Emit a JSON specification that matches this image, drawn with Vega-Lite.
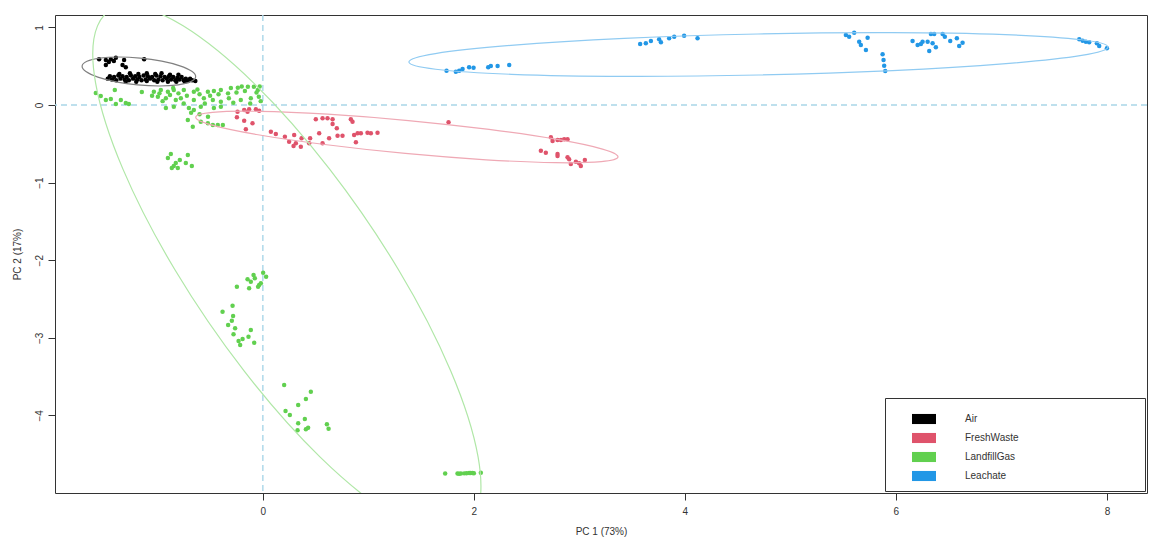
{
  "$schema": "https://vega.github.io/schema/vega-lite/v6.json",
  "width": 1092,
  "height": 478,
  "autosize": {"type": "none"},
  "padding": {"left": 55, "top": 15, "right": 18, "bottom": 57},
  "background": "white",
  "config": {
    "view": {"stroke": "#333", "strokeWidth": 1},
    "font": "Liberation Sans",
    "axis": {"grid": false, "domain": false, "tickColor": "#333", "tickSize": 7, "labelFontSize": 10, "labelColor": "#333", "titleFontSize": 10, "titleFontWeight": "normal", "titleColor": "#333", "labelFont": "Liberation Sans", "titleFont": "Liberation Sans"}
  },
  "datasets": {
    "vref": [{"x": 0}],
    "href": [{"y": 0}],
    "ell": [
      {"g": "Air", "i": 0, "x": -0.637, "y": 0.362}, {"g": "Air", "i": 1, "x": -0.683, "y": 0.301}, {"g": "Air", "i": 2, "x": -0.803, "y": 0.260}, {"g": "Air", "i": 3, "x": -0.980, "y": 0.245},
      {"g": "Air", "i": 4, "x": -1.187, "y": 0.259}, {"g": "Air", "i": 5, "x": -1.392, "y": 0.299}, {"g": "Air", "i": 6, "x": -1.564, "y": 0.359}, {"g": "Air", "i": 7, "x": -1.677, "y": 0.431},
      {"g": "Air", "i": 8, "x": -1.713, "y": 0.502}, {"g": "Air", "i": 9, "x": -1.667, "y": 0.563}, {"g": "Air", "i": 10, "x": -1.547, "y": 0.604}, {"g": "Air", "i": 11, "x": -1.370, "y": 0.619},
      {"g": "Air", "i": 12, "x": -1.163, "y": 0.605}, {"g": "Air", "i": 13, "x": -0.958, "y": 0.565}, {"g": "Air", "i": 14, "x": -0.786, "y": 0.505}, {"g": "Air", "i": 15, "x": -0.673, "y": 0.434},
      {"g": "FreshWaste", "i": 0, "x": 3.366, "y": -0.669}, {"g": "FreshWaste", "i": 1, "x": 3.208, "y": -0.730}, {"g": "FreshWaste", "i": 2, "x": 2.770, "y": -0.743}, {"g": "FreshWaste", "i": 3, "x": 2.117, "y": -0.706},
      {"g": "FreshWaste", "i": 4, "x": 1.350, "y": -0.624}, {"g": "FreshWaste", "i": 5, "x": 0.586, "y": -0.509}, {"g": "FreshWaste", "i": 6, "x": -0.060, "y": -0.380}, {"g": "FreshWaste", "i": 7, "x": -0.489, "y": -0.256},
      {"g": "FreshWaste", "i": 8, "x": -0.636, "y": -0.155}, {"g": "FreshWaste", "i": 9, "x": -0.478, "y": -0.094}, {"g": "FreshWaste", "i": 10, "x": -0.040, "y": -0.081}, {"g": "FreshWaste", "i": 11, "x": 0.613, "y": -0.118},
      {"g": "FreshWaste", "i": 12, "x": 1.380, "y": -0.200}, {"g": "FreshWaste", "i": 13, "x": 2.144, "y": -0.315}, {"g": "FreshWaste", "i": 14, "x": 2.790, "y": -0.444}, {"g": "FreshWaste", "i": 15, "x": 3.219, "y": -0.568},
      {"g": "LandfillGas", "i": 0, "x": 1.287, "y": -2.126}, {"g": "LandfillGas", "i": 1, "x": 1.782, "y": -3.430}, {"g": "LandfillGas", "i": 2, "x": 2.040, "y": -4.535}, {"g": "LandfillGas", "i": 3, "x": 2.022, "y": -5.273},
      {"g": "LandfillGas", "i": 4, "x": 1.731, "y": -5.532}, {"g": "LandfillGas", "i": 5, "x": 1.211, "y": -5.273}, {"g": "LandfillGas", "i": 6, "x": 0.541, "y": -4.535}, {"g": "LandfillGas", "i": 7, "x": -0.176, "y": -3.430},
      {"g": "LandfillGas", "i": 8, "x": -0.832, "y": -2.126}, {"g": "LandfillGas", "i": 9, "x": -1.327, "y": -0.823}, {"g": "LandfillGas", "i": 10, "x": -1.585, "y": 0.282}, {"g": "LandfillGas", "i": 11, "x": -1.567, "y": 1.020},
      {"g": "LandfillGas", "i": 12, "x": -1.276, "y": 1.280}, {"g": "LandfillGas", "i": 13, "x": -0.756, "y": 1.020}, {"g": "LandfillGas", "i": 14, "x": -0.086, "y": 0.282}, {"g": "LandfillGas", "i": 15, "x": 0.631, "y": -0.823},
      {"g": "Leachate", "i": 0, "x": 8.010, "y": 0.748}, {"g": "Leachate", "i": 1, "x": 7.760, "y": 0.639}, {"g": "Leachate", "i": 2, "x": 7.043, "y": 0.533}, {"g": "Leachate", "i": 3, "x": 5.969, "y": 0.444},
      {"g": "Leachate", "i": 4, "x": 4.701, "y": 0.387}, {"g": "Leachate", "i": 5, "x": 3.433, "y": 0.370}, {"g": "Leachate", "i": 6, "x": 2.357, "y": 0.396}, {"g": "Leachate", "i": 7, "x": 1.638, "y": 0.461},
      {"g": "Leachate", "i": 8, "x": 1.384, "y": 0.554}, {"g": "Leachate", "i": 9, "x": 1.635, "y": 0.663}, {"g": "Leachate", "i": 10, "x": 2.352, "y": 0.769}, {"g": "Leachate", "i": 11, "x": 3.425, "y": 0.858},
      {"g": "Leachate", "i": 12, "x": 4.693, "y": 0.915}, {"g": "Leachate", "i": 13, "x": 5.961, "y": 0.932}, {"g": "Leachate", "i": 14, "x": 7.037, "y": 0.906}, {"g": "Leachate", "i": 15, "x": 7.756, "y": 0.841}
    ],
    "pts": [
      {"g": "Air", "x": -1.552, "y": 0.589}, {"g": "Air", "x": -1.488, "y": 0.580}, {"g": "Air", "x": -1.441, "y": 0.589}, {"g": "Air", "x": -1.393, "y": 0.610},
      {"g": "Air", "x": -1.460, "y": 0.554}, {"g": "Air", "x": -1.412, "y": 0.567}, {"g": "Air", "x": -1.315, "y": 0.580}, {"g": "Air", "x": -1.330, "y": 0.515},
      {"g": "Air", "x": -1.299, "y": 0.486}, {"g": "Air", "x": -1.125, "y": 0.589}, {"g": "Air", "x": -1.488, "y": 0.515},
      {"g": "Air", "x": -1.47, "y": 0.34}, {"g": "Air", "x": -1.43, "y": 0.33}, {"g": "Air", "x": -1.39, "y": 0.32}, {"g": "Air", "x": -1.35, "y": 0.34},
      {"g": "Air", "x": -1.31, "y": 0.33}, {"g": "Air", "x": -1.27, "y": 0.32}, {"g": "Air", "x": -1.23, "y": 0.34}, {"g": "Air", "x": -1.19, "y": 0.33},
      {"g": "Air", "x": -1.15, "y": 0.32}, {"g": "Air", "x": -1.11, "y": 0.33}, {"g": "Air", "x": -1.07, "y": 0.34}, {"g": "Air", "x": -1.03, "y": 0.32},
      {"g": "Air", "x": -0.99, "y": 0.33}, {"g": "Air", "x": -0.95, "y": 0.32}, {"g": "Air", "x": -0.91, "y": 0.34}, {"g": "Air", "x": -0.87, "y": 0.33},
      {"g": "Air", "x": -0.83, "y": 0.32}, {"g": "Air", "x": -0.79, "y": 0.33}, {"g": "Air", "x": -0.75, "y": 0.32}, {"g": "Air", "x": -0.71, "y": 0.31},
      {"g": "Air", "x": -0.67, "y": 0.32}, {"g": "Air", "x": -0.64, "y": 0.31},
      {"g": "Air", "x": -1.45, "y": 0.37}, {"g": "Air", "x": -1.41, "y": 0.36}, {"g": "Air", "x": -1.37, "y": 0.38}, {"g": "Air", "x": -1.33, "y": 0.37},
      {"g": "Air", "x": -1.29, "y": 0.36}, {"g": "Air", "x": -1.25, "y": 0.38}, {"g": "Air", "x": -1.21, "y": 0.37}, {"g": "Air", "x": -1.17, "y": 0.36},
      {"g": "Air", "x": -1.13, "y": 0.38}, {"g": "Air", "x": -1.09, "y": 0.37}, {"g": "Air", "x": -1.05, "y": 0.36}, {"g": "Air", "x": -1.01, "y": 0.38},
      {"g": "Air", "x": -0.97, "y": 0.37}, {"g": "Air", "x": -0.93, "y": 0.36}, {"g": "Air", "x": -0.89, "y": 0.37}, {"g": "Air", "x": -0.85, "y": 0.36},
      {"g": "Air", "x": -0.81, "y": 0.35}, {"g": "Air", "x": -0.77, "y": 0.36}, {"g": "Air", "x": -0.73, "y": 0.34}, {"g": "Air", "x": -0.69, "y": 0.34},
      {"g": "Air", "x": -1.36, "y": 0.40}, {"g": "Air", "x": -1.26, "y": 0.41}, {"g": "Air", "x": -1.18, "y": 0.40}, {"g": "Air", "x": -1.10, "y": 0.41},
      {"g": "Air", "x": -1.02, "y": 0.40}, {"g": "Air", "x": -0.96, "y": 0.41}, {"g": "Air", "x": -0.88, "y": 0.39}, {"g": "Air", "x": -0.80, "y": 0.39},
      {"g": "Air", "x": -1.30, "y": 0.30}, {"g": "Air", "x": -1.20, "y": 0.30}, {"g": "Air", "x": -1.10, "y": 0.31}, {"g": "Air", "x": -1.00, "y": 0.30},
      {"g": "Air", "x": -0.90, "y": 0.30}, {"g": "Air", "x": -0.82, "y": 0.30}, {"g": "Air", "x": -0.74, "y": 0.30},

      {"g": "FreshWaste", "x": -0.240, "y": -0.086}, {"g": "FreshWaste", "x": -0.177, "y": -0.064}, {"g": "FreshWaste", "x": -0.145, "y": -0.086}, {"g": "FreshWaste", "x": -0.130, "y": -0.055},
      {"g": "FreshWaste", "x": -0.066, "y": -0.055}, {"g": "FreshWaste", "x": -0.035, "y": -0.073}, {"g": "FreshWaste", "x": -0.246, "y": -0.159}, {"g": "FreshWaste", "x": -0.177, "y": -0.202},
      {"g": "FreshWaste", "x": -0.098, "y": -0.236}, {"g": "FreshWaste", "x": -0.161, "y": -0.313}, {"g": "FreshWaste", "x": 0.076, "y": -0.344}, {"g": "FreshWaste", "x": 0.123, "y": -0.374},
      {"g": "FreshWaste", "x": 0.209, "y": -0.409}, {"g": "FreshWaste", "x": 0.249, "y": -0.473}, {"g": "FreshWaste", "x": 0.297, "y": -0.387}, {"g": "FreshWaste", "x": 0.313, "y": -0.494},
      {"g": "FreshWaste", "x": 0.291, "y": -0.528}, {"g": "FreshWaste", "x": 0.367, "y": -0.429}, {"g": "FreshWaste", "x": 0.360, "y": -0.537}, {"g": "FreshWaste", "x": 0.439, "y": -0.494},
      {"g": "FreshWaste", "x": 0.448, "y": -0.429}, {"g": "FreshWaste", "x": 0.502, "y": -0.184}, {"g": "FreshWaste", "x": 0.566, "y": -0.171}, {"g": "FreshWaste", "x": 0.613, "y": -0.171},
      {"g": "FreshWaste", "x": 0.661, "y": -0.184}, {"g": "FreshWaste", "x": 0.661, "y": -0.245}, {"g": "FreshWaste", "x": 0.701, "y": -0.300}, {"g": "FreshWaste", "x": 0.534, "y": -0.365},
      {"g": "FreshWaste", "x": 0.566, "y": -0.494}, {"g": "FreshWaste", "x": 0.628, "y": -0.429}, {"g": "FreshWaste", "x": 0.708, "y": -0.396}, {"g": "FreshWaste", "x": 0.755, "y": -0.396},
      {"g": "FreshWaste", "x": 0.834, "y": -0.184}, {"g": "FreshWaste", "x": 0.850, "y": -0.215}, {"g": "FreshWaste", "x": 0.865, "y": -0.387}, {"g": "FreshWaste", "x": 0.898, "y": -0.365},
      {"g": "FreshWaste", "x": 0.929, "y": -0.365}, {"g": "FreshWaste", "x": 0.882, "y": -0.481}, {"g": "FreshWaste", "x": 0.992, "y": -0.357}, {"g": "FreshWaste", "x": 1.024, "y": -0.365},
      {"g": "FreshWaste", "x": 1.087, "y": -0.357}, {"g": "FreshWaste", "x": 1.760, "y": -0.223},
      {"g": "FreshWaste", "x": 2.730, "y": -0.416}, {"g": "FreshWaste", "x": 2.746, "y": -0.464}, {"g": "FreshWaste", "x": 2.793, "y": -0.451}, {"g": "FreshWaste", "x": 2.825, "y": -0.451},
      {"g": "FreshWaste", "x": 2.856, "y": -0.442}, {"g": "FreshWaste", "x": 2.888, "y": -0.442}, {"g": "FreshWaste", "x": 2.635, "y": -0.589}, {"g": "FreshWaste", "x": 2.682, "y": -0.615},
      {"g": "FreshWaste", "x": 2.793, "y": -0.631}, {"g": "FreshWaste", "x": 2.793, "y": -0.657}, {"g": "FreshWaste", "x": 2.888, "y": -0.674}, {"g": "FreshWaste", "x": 2.903, "y": -0.700},
      {"g": "FreshWaste", "x": 2.967, "y": -0.731}, {"g": "FreshWaste", "x": 2.998, "y": -0.751}, {"g": "FreshWaste", "x": 2.919, "y": -0.760}, {"g": "FreshWaste", "x": 3.014, "y": -0.786},
      {"g": "FreshWaste", "x": 3.052, "y": -0.709},

      {"g": "LandfillGas", "x": -1.583, "y": 0.155}, {"g": "LandfillGas", "x": -1.536, "y": 0.116}, {"g": "LandfillGas", "x": -1.488, "y": 0.064}, {"g": "LandfillGas", "x": -1.441, "y": 0.077},
      {"g": "LandfillGas", "x": -1.393, "y": 0.013}, {"g": "LandfillGas", "x": -1.346, "y": 0.064}, {"g": "LandfillGas", "x": -1.299, "y": 0.026}, {"g": "LandfillGas", "x": -1.270, "y": 0.013},
      {"g": "LandfillGas", "x": -1.403, "y": 0.193}, {"g": "LandfillGas", "x": -1.147, "y": 0.168},
      {"g": "LandfillGas", "x": -1.033, "y": 0.171}, {"g": "LandfillGas", "x": -0.967, "y": 0.193}, {"g": "LandfillGas", "x": -0.900, "y": 0.171}, {"g": "LandfillGas", "x": -0.844, "y": 0.193},
      {"g": "LandfillGas", "x": -0.749, "y": 0.193}, {"g": "LandfillGas", "x": -0.654, "y": 0.171}, {"g": "LandfillGas", "x": -0.521, "y": 0.171}, {"g": "LandfillGas", "x": -0.464, "y": 0.180},
      {"g": "LandfillGas", "x": -0.398, "y": 0.193}, {"g": "LandfillGas", "x": -0.303, "y": 0.219}, {"g": "LandfillGas", "x": -0.237, "y": 0.223}, {"g": "LandfillGas", "x": -0.142, "y": 0.236},
      {"g": "LandfillGas", "x": -0.085, "y": 0.236}, {"g": "LandfillGas", "x": -0.047, "y": 0.193},
      {"g": "LandfillGas", "x": -0.995, "y": 0.107}, {"g": "LandfillGas", "x": -0.919, "y": 0.086}, {"g": "LandfillGas", "x": -0.825, "y": 0.064}, {"g": "LandfillGas", "x": -0.777, "y": 0.086},
      {"g": "LandfillGas", "x": -0.654, "y": 0.064}, {"g": "LandfillGas", "x": -0.559, "y": 0.086}, {"g": "LandfillGas", "x": -0.474, "y": 0.064}, {"g": "LandfillGas", "x": -0.398, "y": 0.043},
      {"g": "LandfillGas", "x": -0.322, "y": 0.086}, {"g": "LandfillGas", "x": -0.209, "y": 0.064}, {"g": "LandfillGas", "x": -0.114, "y": 0.086}, {"g": "LandfillGas", "x": -0.038, "y": 0.107},
      {"g": "LandfillGas", "x": -0.919, "y": -0.039}, {"g": "LandfillGas", "x": -0.844, "y": -0.022}, {"g": "LandfillGas", "x": -0.701, "y": -0.039}, {"g": "LandfillGas", "x": -0.654, "y": -0.064},
      {"g": "LandfillGas", "x": -0.588, "y": -0.022}, {"g": "LandfillGas", "x": -0.464, "y": -0.039}, {"g": "LandfillGas", "x": -0.398, "y": -0.022},
      {"g": "LandfillGas", "x": -0.711, "y": -0.193}, {"g": "LandfillGas", "x": -0.664, "y": -0.280}, {"g": "LandfillGas", "x": -0.588, "y": -0.215}, {"g": "LandfillGas", "x": -0.521, "y": -0.236},
      {"g": "LandfillGas", "x": -0.474, "y": -0.258}, {"g": "LandfillGas", "x": -0.427, "y": -0.258}, {"g": "LandfillGas", "x": -0.379, "y": -0.258},
      {"g": "LandfillGas", "x": -0.98, "y": 0.15}, {"g": "LandfillGas", "x": -0.88, "y": 0.13}, {"g": "LandfillGas", "x": -0.80, "y": 0.15}, {"g": "LandfillGas", "x": -0.72, "y": 0.12},
      {"g": "LandfillGas", "x": -0.60, "y": 0.14}, {"g": "LandfillGas", "x": -0.50, "y": 0.12}, {"g": "LandfillGas", "x": -0.42, "y": 0.14}, {"g": "LandfillGas", "x": -0.33, "y": 0.15},
      {"g": "LandfillGas", "x": -0.25, "y": 0.16}, {"g": "LandfillGas", "x": -0.17, "y": 0.18}, {"g": "LandfillGas", "x": -0.06, "y": 0.16}, {"g": "LandfillGas", "x": -0.02, "y": 0.05},
      {"g": "LandfillGas", "x": -0.12, "y": 0.02}, {"g": "LandfillGas", "x": -0.28, "y": 0.03}, {"g": "LandfillGas", "x": -0.55, "y": 0.02}, {"g": "LandfillGas", "x": -0.75, "y": 0.02},
      {"g": "LandfillGas", "x": -0.95, "y": 0.05}, {"g": "LandfillGas", "x": -0.03, "y": 0.24}, {"g": "LandfillGas", "x": -0.20, "y": 0.24}, {"g": "LandfillGas", "x": -0.62, "y": 0.20},
      {"g": "LandfillGas", "x": -0.85, "y": 0.22}, {"g": "LandfillGas", "x": -1.05, "y": 0.12}, {"g": "LandfillGas", "x": -0.68, "y": -0.10}, {"g": "LandfillGas", "x": -0.60, "y": -0.12},
      {"g": "LandfillGas", "x": -0.52, "y": -0.15},
      {"g": "LandfillGas", "x": -0.872, "y": -0.631}, {"g": "LandfillGas", "x": -0.900, "y": -0.683}, {"g": "LandfillGas", "x": -0.825, "y": -0.747}, {"g": "LandfillGas", "x": -0.787, "y": -0.709},
      {"g": "LandfillGas", "x": -0.844, "y": -0.786}, {"g": "LandfillGas", "x": -0.863, "y": -0.812}, {"g": "LandfillGas", "x": -0.806, "y": -0.812}, {"g": "LandfillGas", "x": -0.711, "y": -0.644},
      {"g": "LandfillGas", "x": -0.730, "y": -0.747}, {"g": "LandfillGas", "x": -0.673, "y": -0.786},
      {"g": "LandfillGas", "x": -0.145, "y": -2.246}, {"g": "LandfillGas", "x": -0.114, "y": -2.277}, {"g": "LandfillGas", "x": -0.088, "y": -2.191}, {"g": "LandfillGas", "x": -0.076, "y": -2.233},
      {"g": "LandfillGas", "x": -0.130, "y": -2.362}, {"g": "LandfillGas", "x": -0.246, "y": -2.341}, {"g": "LandfillGas", "x": -0.035, "y": -2.320}, {"g": "LandfillGas", "x": -0.019, "y": -2.298},
      {"g": "LandfillGas", "x": -0.045, "y": -2.341}, {"g": "LandfillGas", "x": 0.003, "y": -2.161}, {"g": "LandfillGas", "x": 0.031, "y": -2.213},
      {"g": "LandfillGas", "x": -0.287, "y": -2.586}, {"g": "LandfillGas", "x": -0.382, "y": -2.664}, {"g": "LandfillGas", "x": -0.282, "y": -2.719}, {"g": "LandfillGas", "x": -0.294, "y": -2.780},
      {"g": "LandfillGas", "x": -0.329, "y": -2.835}, {"g": "LandfillGas", "x": -0.263, "y": -2.878}, {"g": "LandfillGas", "x": -0.278, "y": -2.955}, {"g": "LandfillGas", "x": -0.114, "y": -2.899},
      {"g": "LandfillGas", "x": -0.136, "y": -2.986}, {"g": "LandfillGas", "x": -0.192, "y": -3.015}, {"g": "LandfillGas", "x": -0.230, "y": -3.041}, {"g": "LandfillGas", "x": -0.215, "y": -3.093},
      {"g": "LandfillGas", "x": -0.082, "y": -3.063},
      {"g": "LandfillGas", "x": 0.202, "y": -3.608}, {"g": "LandfillGas", "x": 0.455, "y": -3.695}, {"g": "LandfillGas", "x": 0.408, "y": -3.789}, {"g": "LandfillGas", "x": 0.335, "y": -3.866},
      {"g": "LandfillGas", "x": 0.215, "y": -3.943}, {"g": "LandfillGas", "x": 0.256, "y": -3.995}, {"g": "LandfillGas", "x": 0.398, "y": -4.046}, {"g": "LandfillGas", "x": 0.335, "y": -4.102},
      {"g": "LandfillGas", "x": 0.329, "y": -4.192}, {"g": "LandfillGas", "x": 0.408, "y": -4.179}, {"g": "LandfillGas", "x": 0.429, "y": -4.159}, {"g": "LandfillGas", "x": 0.607, "y": -4.115},
      {"g": "LandfillGas", "x": 0.623, "y": -4.171},
      {"g": "LandfillGas", "x": 1.728, "y": -4.749}, {"g": "LandfillGas", "x": 1.845, "y": -4.749}, {"g": "LandfillGas", "x": 1.860, "y": -4.752}, {"g": "LandfillGas", "x": 1.877, "y": -4.749},
      {"g": "LandfillGas", "x": 1.908, "y": -4.747}, {"g": "LandfillGas", "x": 1.930, "y": -4.745}, {"g": "LandfillGas", "x": 1.955, "y": -4.742}, {"g": "LandfillGas", "x": 1.970, "y": -4.742},
      {"g": "LandfillGas", "x": 1.988, "y": -4.742}, {"g": "LandfillGas", "x": 2.000, "y": -4.745}, {"g": "LandfillGas", "x": 2.066, "y": -4.740},

      {"g": "Leachate", "x": 1.741, "y": 0.442}, {"g": "Leachate", "x": 1.829, "y": 0.429}, {"g": "Leachate", "x": 1.861, "y": 0.442}, {"g": "Leachate", "x": 1.893, "y": 0.464},
      {"g": "Leachate", "x": 1.955, "y": 0.486}, {"g": "Leachate", "x": 1.997, "y": 0.481}, {"g": "Leachate", "x": 2.136, "y": 0.486}, {"g": "Leachate", "x": 2.161, "y": 0.503},
      {"g": "Leachate", "x": 2.225, "y": 0.503}, {"g": "Leachate", "x": 2.335, "y": 0.515},
      {"g": "Leachate", "x": 3.576, "y": 0.786}, {"g": "Leachate", "x": 3.630, "y": 0.795}, {"g": "Leachate", "x": 3.678, "y": 0.825}, {"g": "Leachate", "x": 3.756, "y": 0.847},
      {"g": "Leachate", "x": 3.773, "y": 0.808}, {"g": "Leachate", "x": 3.851, "y": 0.860}, {"g": "Leachate", "x": 3.899, "y": 0.880}, {"g": "Leachate", "x": 3.993, "y": 0.893},
      {"g": "Leachate", "x": 4.120, "y": 0.860},
      {"g": "Leachate", "x": 5.526, "y": 0.902}, {"g": "Leachate", "x": 5.557, "y": 0.880}, {"g": "Leachate", "x": 5.605, "y": 0.932}, {"g": "Leachate", "x": 5.652, "y": 0.816},
      {"g": "Leachate", "x": 5.668, "y": 0.773}, {"g": "Leachate", "x": 5.732, "y": 0.867}, {"g": "Leachate", "x": 5.716, "y": 0.709}, {"g": "Leachate", "x": 5.874, "y": 0.653},
      {"g": "Leachate", "x": 5.883, "y": 0.580}, {"g": "Leachate", "x": 5.889, "y": 0.506}, {"g": "Leachate", "x": 5.899, "y": 0.438},
      {"g": "Leachate", "x": 6.158, "y": 0.825}, {"g": "Leachate", "x": 6.206, "y": 0.773}, {"g": "Leachate", "x": 6.253, "y": 0.816}, {"g": "Leachate", "x": 6.301, "y": 0.816},
      {"g": "Leachate", "x": 6.316, "y": 0.696}, {"g": "Leachate", "x": 6.332, "y": 0.915}, {"g": "Leachate", "x": 6.363, "y": 0.915}, {"g": "Leachate", "x": 6.348, "y": 0.795},
      {"g": "Leachate", "x": 6.379, "y": 0.744}, {"g": "Leachate", "x": 6.443, "y": 0.915}, {"g": "Leachate", "x": 6.464, "y": 0.880}, {"g": "Leachate", "x": 6.515, "y": 0.825},
      {"g": "Leachate", "x": 6.578, "y": 0.860}, {"g": "Leachate", "x": 6.600, "y": 0.760}, {"g": "Leachate", "x": 6.632, "y": 0.803}, {"g": "Leachate", "x": 6.237, "y": 0.786},
      {"g": "Leachate", "x": 7.738, "y": 0.847}, {"g": "Leachate", "x": 7.770, "y": 0.829}, {"g": "Leachate", "x": 7.801, "y": 0.816}, {"g": "Leachate", "x": 7.832, "y": 0.808},
      {"g": "Leachate", "x": 7.905, "y": 0.795}, {"g": "Leachate", "x": 7.927, "y": 0.760}, {"g": "Leachate", "x": 8.000, "y": 0.731}
    ]
  },
  "layer": [
    {
      "data": {"name": "vref"},
      "mark": {"type": "rule", "color": "#A9D6E8", "strokeDash": [6, 4], "strokeWidth": 1.4},
      "encoding": {
        "x": {"field": "x", "type": "quantitative", "title": "PC 1 (73%)", "scale": {"domain": [-1.97, 8.38], "nice": false, "zero": false}}
      }
    },
    {
      "data": {"name": "href"},
      "mark": {"type": "rule", "color": "#A9D6E8", "strokeDash": [6, 4], "strokeWidth": 1.4},
      "encoding": {
        "y": {"field": "y", "type": "quantitative", "title": "PC 2 (17%)", "scale": {"domain": [-5.0, 1.16], "nice": false, "zero": false}}
      }
    },
    {
      "data": {"name": "pts"},
      "mark": {"type": "point", "filled": true, "size": 20, "opacity": 1, "clip": true},
      "encoding": {
        "x": {"field": "x", "type": "quantitative", "title": "PC 1 (73%)", "scale": {"domain": [-1.97, 8.38], "nice": false, "zero": false},
              "axis": {"values": [0, 2, 4, 6, 8], "format": "d", "labelPadding": 6, "titlePadding": 10, "labelFlush": false}},
        "y": {"field": "y", "type": "quantitative", "title": "PC 2 (17%)", "scale": {"domain": [-5.0, 1.16], "nice": false, "zero": false},
              "axis": {"values": [-4, -3, -2, -1, 0, 1], "format": "d", "labelAngle": -90, "labelAlign": "center", "labelBaseline": "bottom", "labelPadding": 4, "titlePadding": 12, "labelFlush": false}},
        "color": {"field": "g", "type": "nominal",
                  "scale": {"domain": ["Air", "FreshWaste", "LandfillGas", "Leachate"], "range": ["#000000", "#DF536B", "#61D04F", "#2297E6"]},
                  "legend": {"orient": "none", "legendX": 830, "legendY": 383, "title": " ", "titleOrient": "right", "titlePadding": 117,
                             "strokeColor": "#333", "fillColor": "white", "padding": 9, "cornerRadius": 0,
                             "symbolType": "M-1,-0.42H1V0.42H-1Z", "symbolSize": 576, "symbolStrokeWidth": 0, "symbolOpacity": 1, "symbolOffset": 18,
                             "labelOffset": 29, "labelFontSize": 10, "labelColor": "#333", "labelFont": "Liberation Sans", "rowPadding": 1}}
      }
    },
    {
      "data": {"name": "ell"},
      "mark": {"type": "line", "interpolate": "cardinal-closed", "clip": true, "strokeWidth": 1.2},
      "encoding": {
        "x": {"field": "x", "type": "quantitative", "title": "PC 1 (73%)", "scale": {"domain": [-1.97, 8.38], "nice": false, "zero": false}},
        "y": {"field": "y", "type": "quantitative", "title": "PC 2 (17%)", "scale": {"domain": [-5.0, 1.16], "nice": false, "zero": false}},
        "stroke": {"field": "g", "type": "nominal", "legend": null, "scale": {"domain": ["Leachate", "LandfillGas", "FreshWaste", "Air"], "range": ["#90CBF2", "#B0E7A7", "#EFA9B5", "#808080"]}},
        "order": {"field": "i", "type": "quantitative"}
      }
    }
  ]
}
